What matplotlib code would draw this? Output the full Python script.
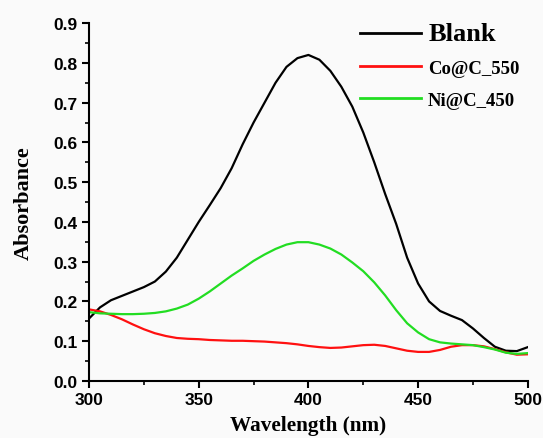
import matplotlib.pyplot as plt
import numpy as np
from matplotlib.ticker import MultipleLocator

# wavelength grid (nm)
wl = [300, 305, 310, 315, 320, 325, 330, 335, 340, 345, 350, 355, 360, 365, 370,
      375, 380, 385, 390, 395, 400, 405, 410, 415, 420, 425, 430, 435, 440, 445,
      450, 455, 460, 465, 470, 475, 480, 485, 490, 495, 500]

blank = [0.157, 0.185, 0.203, 0.214, 0.225, 0.236, 0.250, 0.275, 0.310, 0.355,
         0.400, 0.442, 0.485, 0.535, 0.595, 0.650, 0.700, 0.750, 0.790, 0.812,
         0.820, 0.808, 0.780, 0.740, 0.690, 0.625, 0.550, 0.470, 0.395, 0.310,
         0.245, 0.200, 0.176, 0.164, 0.153, 0.132, 0.108, 0.086, 0.076, 0.075,
         0.085]

co_c550 = [0.180, 0.175, 0.166, 0.155, 0.142, 0.130, 0.120, 0.113, 0.108, 0.106,
           0.105, 0.103, 0.102, 0.101, 0.101, 0.100, 0.099, 0.097, 0.095, 0.092,
           0.088, 0.085, 0.083, 0.084, 0.087, 0.090, 0.091, 0.088, 0.082, 0.076,
           0.073, 0.073, 0.078, 0.086, 0.090, 0.090, 0.087, 0.080, 0.072, 0.066,
           0.067]

ni_c450 = [0.173, 0.170, 0.169, 0.168, 0.168, 0.169, 0.171, 0.175, 0.182, 0.192,
           0.207, 0.225, 0.245, 0.265, 0.283, 0.302, 0.318, 0.332, 0.343, 0.349,
           0.349, 0.343, 0.333, 0.318, 0.298, 0.276, 0.248, 0.215, 0.178, 0.145,
           0.122, 0.105, 0.097, 0.094, 0.092, 0.090, 0.085, 0.079, 0.071, 0.068,
           0.070]

series_labels = ['Blank', 'Co@C_550', 'Ni@C_450']
series_colors = ['#000000', '#ff1010', '#22dd22']

fig = plt.figure(figsize=(5.43, 4.39), dpi=100, facecolor='#fafafa')
ax = fig.add_axes([0.164, 0.130, 0.808, 0.815])
ax.set_facecolor('#fafafa')

for y, lab, c in zip([blank, co_c550, ni_c450], series_labels, series_colors):
    ax.plot(wl, y, color=c, lw=1.6, label=lab)

ax.set_xlim(300, 500)
ax.set_ylim(0, 0.9)
ax.xaxis.set_major_locator(MultipleLocator(50))
ax.xaxis.set_minor_locator(MultipleLocator(25))
ax.yaxis.set_major_locator(MultipleLocator(0.1))
ax.yaxis.set_minor_locator(MultipleLocator(0.05))
ax.yaxis.set_major_formatter(plt.FormatStrFormatter('%.1f'))

for s in ['top', 'right']:
    ax.spines[s].set_visible(False)
for s in ['left', 'bottom']:
    ax.spines[s].set_linewidth(1.5)

ax.tick_params(which='major', direction='out', length=5, width=1.5, pad=3)
ax.tick_params(which='minor', direction='out', length=3, width=1.2)
for t in ax.get_xticklabels() + ax.get_yticklabels():
    t.set_fontfamily('Liberation Sans')
    t.set_fontweight('bold')
    t.set_fontsize(12.5)

ax.set_xlabel('Wavelength (nm)', family='Liberation Serif', weight='bold',
              fontsize=15.3, labelpad=6)
ax.set_ylabel('Absorbance', family='Liberation Serif', weight='bold',
              fontsize=16, labelpad=14)

leg = ax.legend(loc='upper left', bbox_to_anchor=(0.617, 1.004),
                prop={'family': 'Liberation Serif', 'weight': 'bold', 'size': 13.5},
                handlelength=3.25, handletextpad=0.4, labelspacing=0.8,
                borderpad=0, borderaxespad=0, frameon=False)
leg.get_texts()[0].set_fontsize(19)
for line in leg.get_lines():
    line.set_linewidth(2)

fig.savefig('out.png', dpi=100, facecolor=fig.get_facecolor())
